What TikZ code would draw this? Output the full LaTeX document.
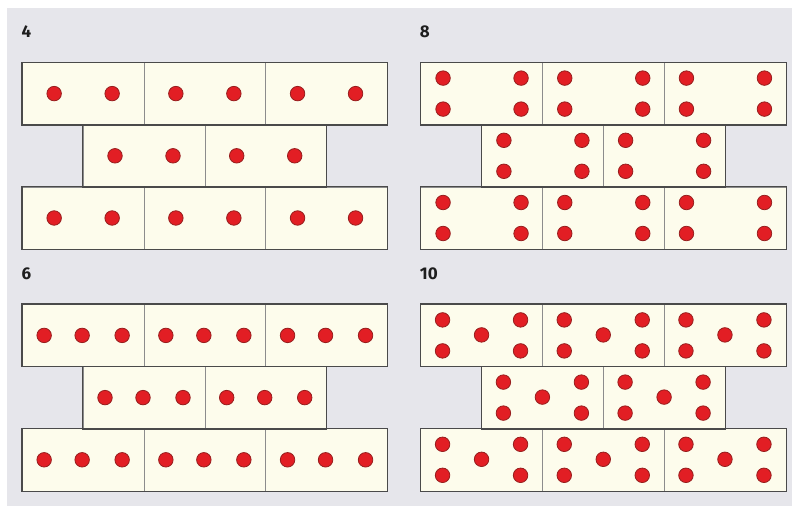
\documentclass[tikz,border=0pt]{standalone}
\usepackage{fontspec}
\setmainfont{Fira Sans}
\usetikzlibrary{positioning}

\definecolor{panelbg}{HTML}{E6E6EB}
\definecolor{cream}{HTML}{FDFCEC}
\definecolor{divline}{HTML}{8C8C8C}
\definecolor{rimline}{HTML}{4A4A4A}
\definecolor{pipred}{HTML}{E21E24}
\definecolor{pipline}{HTML}{961E1E}
\definecolor{labeltext}{HTML}{1E1E1E}

\begin{document}
\begin{tikzpicture}[x=1pt, y=-1pt]
    \tikzstyle{brick} = [draw=divline, fill=cream, minimum width=121.7pt, minimum height=62.2pt, inner sep=0pt, line width=0.6pt]
    \tikzstyle{rim} = [draw=rimline, line width=1.1pt]
    \tikzstyle{pip} = [circle, draw=pipline, fill=pipred, minimum size=14.5pt, inner sep=0pt, line width=0.8pt]
    \tikzstyle{count} = [anchor=west, inner sep=0pt, text=labeltext, font=\fontsize{17}{17}\selectfont\bfseries]

    % page and grey panel
    \fill[white] (0,0) rectangle (792,506);
    \fill[panelbg] (7,8) rectangle (792,506);

    \foreach \p/\n/\X/\Y/\pips in {
        four/4/22.3/62.5/{-29/0,29/0},
        eight/8/420.7/62.5/{-38.5/-15.5,-38.5/15.5,39.5/-15.5,39.5/15.5},
        six/6/22.3/304.3/{-39/0,-1/0,39/0},
        ten/10/420.7/304.3/{-39/-15.5,-39/15.5,0/-0.5,39/-15.5,39/15.5}}
    {
        \node[count] (\p-label) at (\X-1, \Y-30.5) {\n};

        % three rows of bricks, the middle one shifted by half a brick
        \foreach \i in {1,2,3} {
            \node[brick] (\p-top-\i) at ({\X+(\i-0.5)*121.7}, \Y+31.1) {};
            \node[brick] (\p-bot-\i) at ({\X+(\i-0.5)*121.7}, \Y+155.5) {};
        }
        \foreach \i in {1,2}
            \node[brick] (\p-mid-\i) at ({\X+\i*121.7}, \Y+93.3) {};

        \draw[rim] (\p-top-1.north west) rectangle (\p-top-3.south east);
        \draw[rim] (\p-mid-1.north west) rectangle (\p-mid-2.south east);
        \draw[rim] (\p-bot-1.north west) rectangle (\p-bot-3.south east);

        % pips
        \foreach \b in {top-1,top-2,top-3,mid-1,mid-2,bot-1,bot-2,bot-3}
            \foreach \dx/\dy [count=\k] in \pips
                \node[pip] (\p-\b-\k) at ([shift={(\dx,\dy)}]\p-\b.center) {};
    }
\end{tikzpicture}
\end{document}
